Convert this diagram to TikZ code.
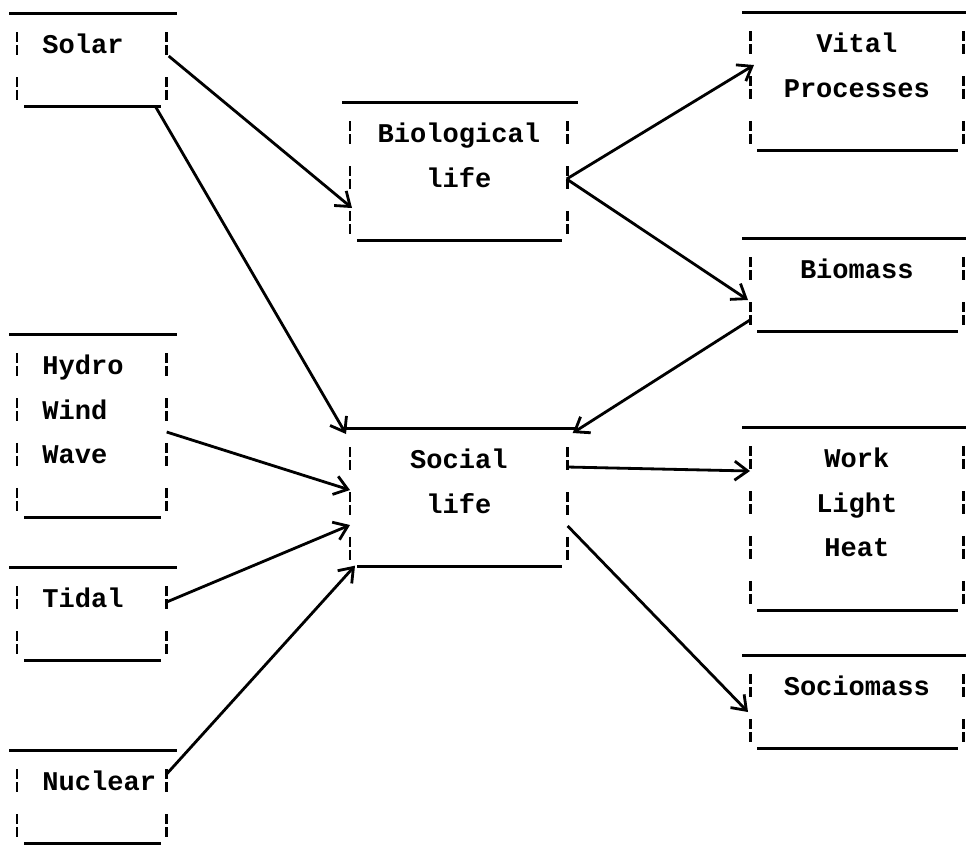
\documentclass[tikz,border=0pt]{standalone}
\usepackage{fontspec}
\setmonofont{Liberation Mono}
\usetikzlibrary{arrows.meta,calc}

\begin{document}
\begin{tikzpicture}[
	x=0.02cm, y=-0.02cm,
	rule/.style={line width=1.7pt},
	side/.style={
		line width=1.7pt,
		dash pattern=on 0.2cm off 0.06cm on 0.2cm off 0.44cm
	},
	arr/.style={
		line width=1.6pt,
		-{Straight Barb[length=2.6mm,width=3.8mm]}
	},
	tbox/.style={
		anchor=north west,
		inner ysep=0.17cm,
		font=\ttfamily\bfseries\fontsize{15.4}{25.5}\selectfont,
		execute at begin node=\strut
	},
	srcbox/.style={tbox, text width=1.98cm, inner xsep=0.5cm, align=flush left},
	midbox/.style={tbox, text width=4.02cm, inner xsep=0.16cm, align=flush center},
	outbox/.style={tbox, text width=3.94cm, inner xsep=0.16cm, align=flush center},
	]
	\useasboundingbox (0,0) rectangle (966,850);

	% sources
	\node[srcbox] (solar) at (17,13) {Solar\\\mbox{}};
	\node[srcbox] (hydro) at (17,334) {Hydro\\Wind\\Wave\\\mbox{}};
	\node[srcbox] (tidal) at (17,567) {Tidal\\\mbox{}};
	\node[srcbox] (nuclear) at (17,750) {Nuclear\\\mbox{}};

	\node[midbox] (bio) at (350,102) {Biological\\life\\\mbox{}};
	\node[midbox] (social) at (350,428) {Social\\life\\\mbox{}};

	% outputs
	\node[outbox] (vital) at (750,12) {Vital\\Processes\\\mbox{}};
	\node[outbox] (biomass) at (750,238) {Biomass\\\mbox{}};
	\node[outbox] (work) at (750,427) {Work\\Light\\Heat\\\mbox{}};
	\node[outbox] (socio) at (750,655) {Sociomass\\\mbox{}};

	\foreach \n in {solar,hydro,tidal,nuclear,bio,social,vital,biomass,work,socio}{
		\draw[rule] ($(\n.north west)+(-8,0)$) -- ($(\n.north east)+(10,0)$);
		\draw[rule] ($(\n.south west)+(7,0)$) -- ($(\n.south east)+(-6,0)$);
		\draw[side] ($(\n.north west)+(0,19)$) -- (\n.south west);
		\draw[side] ($(\n.north east)+(0,19)$) -- (\n.south east);
	}

	\draw[arr] ($(solar.north east)+(2,43)$) -- ($(bio.north west)+(2,106)$);
	\draw[arr] ($(solar.south east)+(-11,0)$) -- ($(social.north west)+(-4,6)$);
	\draw[arr] ($(bio.north east)+(-1,77)$) -- ($(vital.north west)+(4,53)$);
	\draw[arr] ($(bio.north east)+(-1,77)$) -- ($(biomass.north west)+(-2,62)$);
	\draw[arr] ($(biomass.north west)+(0,82)$) -- ($(social.north east)+(5,5)$);
	\draw[arr] ($(hydro.north east)+(0,98)$) -- ($(social.north west)+(0,62)$);
	\draw[arr] ($(tidal.north east)+(0,35)$) -- ($(social.north west)+(0,97)$);
	\draw[arr] ($(nuclear.north east)+(0,24)$) -- ($(social.south west)+(5,-1)$);
	\draw[arr] ($(social.north east)+(0,39)$) -- ($(work.north west)+(0,44)$);
	\draw[arr] ($(social.north east)+(0,98)$) -- ($(socio.north west)+(-2,57)$);
\end{tikzpicture}
\end{document}
